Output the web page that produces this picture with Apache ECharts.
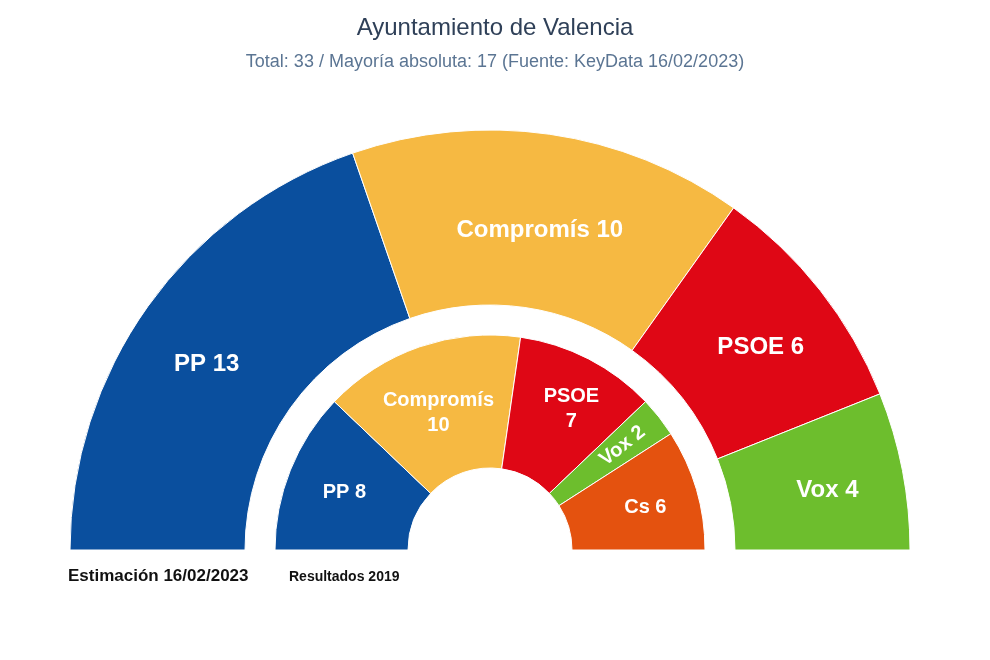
<!DOCTYPE html>
<html>
<head>
<meta charset="utf-8">
<script src="https://cdn.jsdelivr.net/npm/echarts@6/dist/echarts.min.js"></script>
<style>
html,body{margin:0;padding:0;background:#fff;}
#chart{width:990px;height:660px;}
</style>
</head>
<body>
<div id="chart"></div>
<script>
// datos
var partidosEstimacion = ['PP', 'Compromís', 'PSOE', 'Vox'];
var escanosEstimacion = [13, 10, 6, 4];
var partidos2019 = ['PP', 'Compromís', 'PSOE', 'Vox', 'Cs'];
var escanos2019 = [8, 10, 7, 2, 6];

var colores = {
    'PP': '#0A4F9E',
    'Compromís': '#F6B942',
    'PSOE': '#DF0715',
    'Vox': '#6DBE2D',
    'Cs': '#E4520F'
};

// ajustes de posición de etiquetas
var offEstimacion = [[-10, 9], [2, 12], [7, 5], [8, 4]];
var off2019 = [[-5, -1], [-2, 6], [12, -6], [0, 0], [10, 0]];

var myChart = echarts.init(document.getElementById('chart'));

var dataEstimacion = partidosEstimacion.map(function(n, i){
    return {
        name: n,
        value: escanosEstimacion[i],
        itemStyle: { color: colores[n] },
        label: { offset: offEstimacion[i] }
    };
});

var data2019 = partidos2019.map(function(n, i){
    return {
        name: n,
        value: escanos2019[i],
        itemStyle: { color: colores[n] },
        label: { offset: off2019[i] }
    };
});
// Compromís y PSOE en dos líneas
data2019[1].label.formatter = '{b}\n{c}';
data2019[2].label.formatter = '{b}\n{c}';
// etiqueta de Vox 2 girada
data2019[3].label.rotate = 'radial';
data2019[3].label.padding = [0, 0, 0, 34];

var option = {
    backgroundColor: '#fff',
    title: {
        text: 'Ayuntamiento de Valencia',
        subtext: 'Total: 33 / Mayoría absoluta: 17 (Fuente: KeyData 16/02/2023)',
        left: 'center',
        top: 11,
        itemGap: 13,
        textStyle: { fontFamily: 'Liberation Sans', fontSize: 24, fontWeight: 'normal', color: '#2F4058' },
        subtextStyle: { fontFamily: 'Liberation Sans', fontSize: 18, color: '#5B7593' }
    },
    graphic: [
        {
            type: 'text', left: 68, top: 568,
            style: { text: 'Estimación 16/02/2023', font: 'bold 17px "Liberation Sans"', fill: '#111' }
        },
        {
            type: 'text', left: 289, top: 570,
            style: { text: 'Resultados 2019', font: 'bold 14px "Liberation Sans"', fill: '#111' }
        }
    ],
    series: [
        {
            name: 'Estimación',
            type: 'pie',
            center: [490, 550],
            radius: [245, 420],
            startAngle: 180,
            endAngle: 360,
            avoidLabelOverlap: false,
            itemStyle: { borderColor: '#fff', borderWidth: 1 },
            label: {
                show: true,
                position: 'inside',
                formatter: '{b} {c}',
                color: '#fff',
                fontFamily: 'Liberation Sans',
                fontWeight: 'bold',
                fontSize: 24
            },
            labelLine: { show: false },
            emphasis: { disabled: true },
            data: dataEstimacion
        },
        {
            name: 'Resultados 2019',
            type: 'pie',
            center: [490, 550],
            radius: [82, 215],
            startAngle: 180,
            endAngle: 360,
            avoidLabelOverlap: false,
            itemStyle: { borderColor: '#fff', borderWidth: 1 },
            label: {
                show: true,
                position: 'inside',
                formatter: '{b} {c}',
                color: '#fff',
                fontFamily: 'Liberation Sans',
                fontWeight: 'bold',
                fontSize: 20,
                lineHeight: 25
            },
            labelLine: { show: false },
            emphasis: { disabled: true },
            data: data2019
        }
    ]
};

myChart.setOption(option);
</script>
</body>
</html>
